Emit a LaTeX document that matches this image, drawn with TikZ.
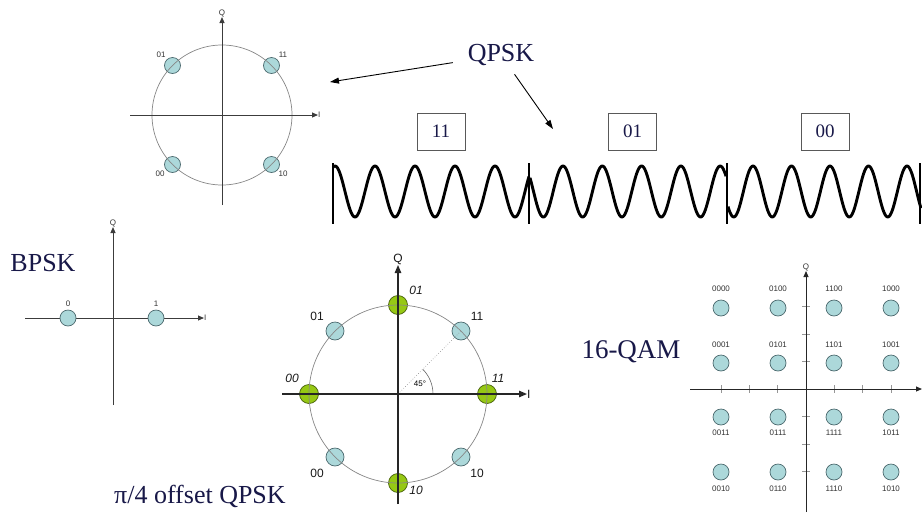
\documentclass[tikz,border=0pt]{standalone}
\usepackage{fontspec}
\setmainfont{Liberation Serif}
\newfontfamily\lsans{Liberation Sans}
\usetikzlibrary{arrows.meta}
\definecolor{ink}{RGB}{24,24,72}
\definecolor{dotfill}{RGB}{172,216,218}
\definecolor{dotline}{RGB}{75,105,110}
\definecolor{grn}{RGB}{150,200,20}
\definecolor{grnline}{RGB}{70,95,10}
\definecolor{axisgray}{RGB}{60,60,60}
\definecolor{ringgray}{RGB}{135,135,135}
\definecolor{tickgray}{RGB}{150,150,150}
\begin{document}
\begin{tikzpicture}[x=1pt,y=-1pt,
  bigtext/.style={font=\fontsize{26}{28}\selectfont, text=ink, inner sep=1pt},
  bitbox/.style={font=\fontsize{19}{21}\selectfont, text=ink, draw=black!65, line width=0.8pt, minimum width=48pt, minimum height=37pt, inner sep=0pt},
  tinylab/.style={font=\lsans\fontsize{8}{9}\selectfont, inner sep=0pt, text=black!80},
  midlab/.style={font=\lsans\fontsize{12}{13}\selectfont, inner sep=0pt, text=black!90},
  midital/.style={font=\lsans\itshape\fontsize{12}{13}\selectfont, inner sep=0pt, text=black!90},
  bdot/.style={circle, draw=dotline, fill=dotfill, line width=0.7pt, inner sep=0pt, minimum size=16pt},
  gdot/.style={circle, draw=grnline, fill=grn, line width=0.7pt, inner sep=0pt, minimum size=19pt},
  axisline/.style={draw=axisgray, line width=1pt, -{Triangle[length=6pt,width=5pt]}},
  darkaxis/.style={draw=black!85, line width=1.2pt, -{Triangle[length=8pt,width=6.5pt]}},
  ring/.style={draw=ringgray, line width=0.7pt},
  ptr/.style={draw=black, line width=0.9pt, -{Triangle[length=9pt,width=6pt]}},
  wave/.style={line width=2.9pt, line join=round},
  bar/.style={line width=2pt},
  tick/.style={draw=tickgray, line width=0.6pt}
]
\useasboundingbox (0,0) rectangle (922,523);

% ---------------- Top QPSK constellation ----------------
\coordinate (c1) at (222,115);
\node[bdot] (q01) at (172.5,65.5) {};
\node[bdot] (q11) at (271.5,65.5) {};
\node[bdot] (q00) at (172.5,164.5) {};
\node[bdot] (q10) at (271.5,164.5) {};
\draw[ring] (c1) circle[radius=70];
\coordinate (q1left) at (130,115);
\coordinate (q1bot) at (222,205);
\node[tinylab,anchor=west] (q1I) at (318,115) {I};
\node[tinylab,anchor=south] (q1Q) at (222,17) {Q};
\draw[axisline] (q1left) -- (q1I.west);
\draw[axisline] (q1bot) -- (q1Q.south);
\node[tinylab] (l01) at (161,55) {01};
\node[tinylab] (l11) at (283,55) {11};
\node[tinylab] (l00) at (160,174) {00};
\node[tinylab] (l10) at (283,174) {10};

% ---------------- QPSK label and arrows ----------------
\node[bigtext] (qpsk) at (501,55) {QPSK};
\coordinate (toconst) at (330,82);
\coordinate (towave) at (553,129);
\draw[ptr, shorten <=14pt] (qpsk) -- (toconst);
\draw[ptr, shorten <=9pt] (qpsk) -- (towave);

% ---------------- bit boxes ----------------
\node[bitbox] (b11) at (441,131.5) {11};
\node[bitbox] (b01) at (632.5,131.5) {01};
\node[bitbox] (b00) at (825,131.5) {00};

% ---------------- waveform ----------------
\draw[wave] plot[domain=333:529,samples=220] (\x,{191.5-25.5*cos(9*(\x-335))});
\draw[wave] plot[domain=530:726,samples=220] (\x,{191.5-25.5*cos(9.1603*(\x-563))});
\draw[wave] plot[domain=728:921,samples=220] (\x,{191.5-25.5*cos(9.3506*(\x-753))});
\foreach \bx in {333,529,727,920}{\draw[bar] (\bx,163) -- (\bx,224);}

% ---------------- BPSK ----------------
\node[bigtext] (bpsk) at (43,263) {BPSK};
\coordinate (bleft) at (25,318);
\coordinate (bbot) at (113,405);
\node[tinylab,anchor=west] (bI) at (204,318) {I};
\node[tinylab,anchor=south] (bQ) at (113,227) {Q};
\draw[axisline] (bleft) -- (bI.west);
\draw[axisline] (bbot) -- (bQ.south);
\node[bdot] (b0) at (68,318) {};
\node[bdot] (b1) at (156,318) {};
\node[tinylab] (lb0) at (68,304) {0};
\node[tinylab] (lb1) at (156,304) {1};

% ---------------- pi/4 offset QPSK ----------------
\coordinate (c3) at (398,394);
\node[gdot] (g01) at (398,305) {};
\node[gdot] (g10) at (398,483) {};
\node[gdot] (g00) at (309,394) {};
\node[gdot] (g11) at (487,394) {};
\node[bdot,minimum size=18pt] (p11) at (461,331) {};
\node[bdot,minimum size=18pt] (p01) at (335,331) {};
\node[bdot,minimum size=18pt] (p00) at (335,457) {};
\node[bdot,minimum size=18pt] (p10) at (461,457) {};
\draw[ring] (c3) circle[radius=89];
\draw[draw=black!50, line width=0.6pt, dotted] (c3) -- (p11.center);
\draw[draw=black!60, line width=0.6pt] ([xshift=35pt]c3) arc[start angle=0, end angle=-45, radius=35];
\node[font=\lsans\fontsize{8}{9}\selectfont, inner sep=0pt] (ang) at (420,384) {45°};
\coordinate (pleft) at (282,394);
\coordinate (pbot) at (398,504);
\node[midlab,anchor=west] (pI) at (527,394) {I};
\node[midlab,anchor=south] (pQ) at (398,265) {Q};
\draw[darkaxis] (pleft) -- (pI.west);
\draw[darkaxis] (pbot) -- (pQ.south);
\node[midital] (li01) at (416,290) {01};
\node[midlab] (lp01) at (317,316) {01};
\node[midlab] (lp11) at (477,316) {11};
\node[midital] (li00) at (292,378) {00};
\node[midital] (li11) at (498,378) {11};
\node[midlab] (lp00) at (317,473) {00};
\node[midlab] (lp10) at (477,473) {10};
\node[midital] (li10) at (416,490) {10};
\node[bigtext,anchor=base west] (pi4) at (113,503) {π/4 offset QPSK};

% ---------------- 16-QAM ----------------
\node[bigtext,font=\fontsize{27}{29}\selectfont] (qam) at (631,352) {16-QAM};
\coordinate (c4) at (806,389);
\foreach \k in {-3,-2,-1,1,2,3}{
  \draw[tick] (806+28.3*\k,385) -- (806+28.3*\k,393);
  \draw[tick] (802,389+27.5*\k) -- (810,389+27.5*\k);
}
\coordinate (qleft) at (690,389);
\coordinate (qright) at (922,389);
\coordinate (qbot) at (806,512);
\node[tinylab,anchor=south] (qQ) at (806,271) {Q};
\draw[axisline,draw=black!85] (qleft) -- (qright);
\draw[axisline,draw=black!85] (qbot) -- (qQ.south);
\foreach \cx/\ca/\cb/\cc/\cd [count=\i] in {721/0000/0001/0011/0010, 778/0100/0101/0111/0110, 834/1100/1101/1111/1110, 891/1000/1001/1011/1010}{
  \node[bdot] (qa\i) at (\cx,308) {};
  \node[bdot] (qb\i) at (\cx,363) {};
  \node[bdot] (qc\i) at (\cx,417) {};
  \node[bdot] (qd\i) at (\cx,472) {};
  \node[tinylab] (lqa\i) at (\cx,289) {\ca};
  \node[tinylab] (lqb\i) at (\cx,345) {\cb};
  \node[tinylab] (lqc\i) at (\cx,433) {\cc};
  \node[tinylab] (lqd\i) at (\cx,489) {\cd};
}
\end{tikzpicture}
\end{document}
